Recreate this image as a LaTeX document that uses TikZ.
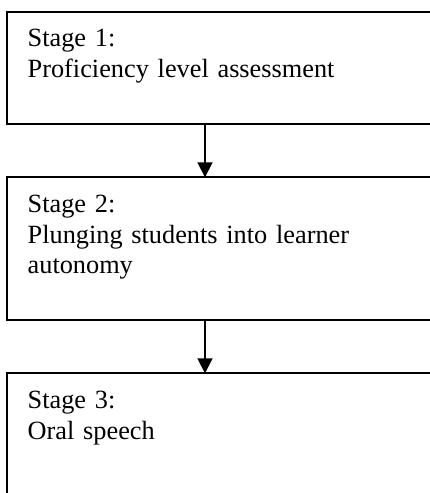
\documentclass[tikz,border=0pt]{standalone}
\usepackage{fontspec}
\setmainfont{Liberation Serif}
\usetikzlibrary{positioning,arrows.meta}

\begin{document}
\begin{tikzpicture}[x=1pt, y=1pt, node distance=53.3pt, >={Triangle[width=15pt,length=15pt]}]
	\tikzstyle{every node}=[font=\fontsize{26.3}{30.8}\selectfont]
	\tikzstyle{stagebox}=[draw, line width=1.8pt, outer sep=0pt, inner xsep=21pt, inner ysep=0pt, text width=400pt, align=left, text height=35pt]
	\useasboundingbox (0,0) rectangle (430,-493);
	\clip (0,0) rectangle (430,-493);

	\node (Stage1) [stagebox, anchor=north west, text depth=77.3pt] at (6.7,-11.7) {Stage 1:\\Proficiency level assessment};
	\node (Stage2) [stagebox, below=of Stage1, text depth=107.7pt] {Stage 2:\\Plunging students into learner\\autonomy};
	\node (Stage3) [stagebox, below=of Stage2, text depth=120pt] {Stage 3:\\Oral speech};

	\coordinate (Mid) at (205,0);
	\draw [->, line width=1.8pt] (Stage1.south -| Mid) -- (Stage2.north -| Mid);
	\draw [->, line width=1.8pt] (Stage2.south -| Mid) -- (Stage3.north -| Mid);
\end{tikzpicture}
\end{document}
